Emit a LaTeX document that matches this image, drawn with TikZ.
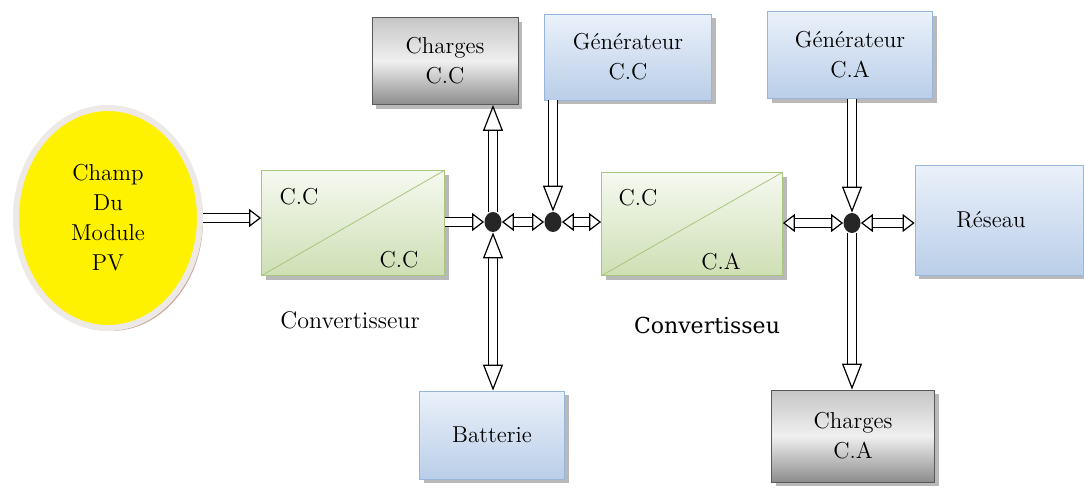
\documentclass[tikz,border=0pt]{standalone}
\usepackage{fontspec}
\newfontfamily\convfont{DejaVu Serif}
\usetikzlibrary{arrows.meta,shapes.geometric,shadows}

\definecolor{pvring}{RGB}{236,233,231}
\definecolor{pvshade}{RGB}{205,165,150}
\definecolor{convtop}{RGB}{246,249,240}
\definecolor{convbot}{RGB}{206,223,180}
\definecolor{convline}{RGB}{168,198,125}
\definecolor{bluetop}{RGB}{234,241,250}
\definecolor{bluebot}{RGB}{186,206,232}
\definecolor{blueline}{RGB}{150,182,220}

\tikzset{
  txt/.style={font=\fontsize{11.5}{15}\selectfont, align=center},
  box/.style={rectangle, inner sep=0pt, txt,
    drop shadow={shadow xshift=2pt, shadow yshift=-2pt, fill=gray!55, opacity=1}},
  chargebox/.style={box, draw=gray!70!black, top color=gray!45, bottom color=gray!90, middle color=gray!12},
  bluebox/.style={box, draw=blueline, top color=bluetop, bottom color=bluebot},
  convbox/.style={box, draw=convline, top color=convtop, bottom color=convbot},
  junction/.style={ellipse, fill=black!85, minimum width=8.5pt, minimum height=10pt, inner sep=0pt},
  flow/.style={line width=0.6pt, double=white, double distance=3.6pt,
    -{Triangle[fill=white, length=6pt, width=9pt]}},
  flowboth/.style={flow, {Triangle[fill=white, length=6pt, width=9pt]}-{Triangle[fill=white, length=6pt, width=9pt]}},
  vflow/.style={flow, -{Triangle[fill=white, length=13pt, width=10pt]}},
  vflowboth/.style={flow, {Triangle[fill=white, length=13pt, width=10pt]}-{Triangle[fill=white, length=13pt, width=10pt]}}
}

\begin{document}
\begin{tikzpicture}[x=0.5pt, y=-0.5pt]
  \useasboundingbox (0,0) rectangle (1084,489);

  % source
  \node[ellipse, fill=yellow, draw=pvring, line width=3pt, minimum width=92pt, minimum height=110pt,
    drop shadow={shadow xshift=1.5pt, shadow yshift=-1.5pt, fill=pvshade, opacity=1}, txt] (pv) at (108,218) {Champ\\Du\\Module\\PV};

  % converters
  \node[convbox, minimum width=91.5pt, minimum height=52.5pt] (conv1) at (353,223) {};
  \draw[convline] (conv1.south west) -- (conv1.north east);
  \node[txt] (conv1in) at (299,197) {C.C};
  \node[txt] (conv1out) at (399,260) {C.C};
  \node[font=\fontsize{12}{14}\selectfont] (conv1lab) at (350,320) {Convertisseur};

  \node[convbox, minimum width=90.5pt, minimum height=51.5pt] (conv2) at (692,224) {};
  \draw[convline] (conv2.south west) -- (conv2.north east);
  \node[txt] (conv2in) at (638,198) {C.C};
  \node[txt] (conv2out) at (721,262) {C.A};
  \node[font=\convfont\fontsize{11}{14}\selectfont] (conv2lab) at (707,325) {Convertisseu};

  % loads and sources
  \node[chargebox, minimum width=73pt, minimum height=43.5pt] (ccload) at (445,61) {Charges\\C.C};
  \node[bluebox, minimum width=83.5pt, minimum height=43pt] (ccgen) at (628,57) {Générateur\\C.C};
  \node[bluebox, minimum width=82.5pt, minimum height=43.5pt] (cagen) at (850,55) {Générateur\\C.A};
  \node[bluebox, minimum width=84pt, minimum height=55pt] (grid) at (999,220) {Réseau\hspace*{8pt}};
  \node[bluebox, minimum width=72.5pt, minimum height=44pt] (bat) at (492,435) {\raisebox{-5pt}{Batterie}};
  \node[chargebox, minimum width=81.5pt, minimum height=46pt] (caload) at (853,436) {Charges\\C.A};

  % junctions
  \node[junction] (j1) at (493,222) {};
  \node[junction] (j2) at (553,222) {};
  \node[junction] (j3) at (852,223) {};

  % flows
  \draw[flow] (pv.east) -- (pv.east -| conv1.west);
  \draw[flow] (conv1.east |- j1) -- (j1);
  \draw[vflow] (j1) -- (j1 |- ccload.south);
  \draw[vflowboth] (j1) -- (j1 |- bat.north);
  \draw[flowboth] (j1) -- (j2);
  \draw[vflow] (ccgen.south -| j2) -- (j2);
  \draw[flowboth] (j2) -- (j2 -| conv2.west);
  \draw[flowboth] (conv2.east |- j3) -- (j3);
  \draw[vflow] (cagen.south -| j3) -- (j3);
  \draw[flowboth] (j3) -- (j3 -| grid.west);
  \draw[vflow] (j3) -- (j3 |- caload.north);
\end{tikzpicture}
\end{document}
